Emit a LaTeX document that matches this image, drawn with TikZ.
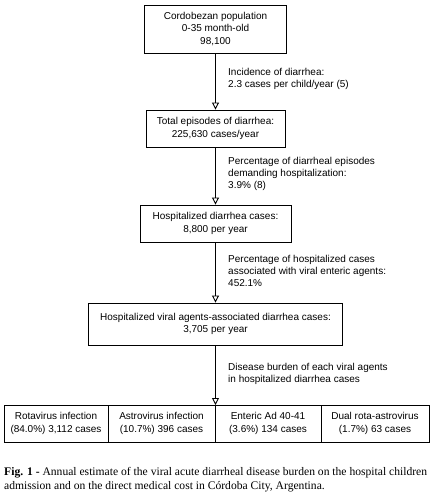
\documentclass[tikz,border=0pt]{standalone}
\usepackage{fontspec}
\setmainfont{Liberation Serif}
\newfontfamily\boxfont{Liberation Sans}
\usetikzlibrary{arrows.meta}

\begin{document}
\begin{tikzpicture}[x=1pt,y=-1pt,
		box/.style={draw,line width=0.9pt,align=center,inner sep=0pt,font=\boxfont\fontsize{10}{12.5}\selectfont},
		note/.style={anchor=west,align=left,inner sep=0pt,font=\boxfont\fontsize{10}{12}\selectfont},
		arr/.style={line width=1pt,-{Triangle[open,length=7pt,width=7pt,line width=0.9pt]}}]
			\useasboundingbox[fill=white] (0,0) rectangle (430,500);
			
			\node[box,minimum width=142pt,minimum height=48pt] (pop) at (215.5,29) {Cordobezan population\\0-35 month-old\\98,100};
			\node[box,minimum width=139pt,minimum height=37pt] (tot) at (215.5,128.5) {Total episodes of diarrhea:\\225,630 cases/year};
			\node[box,minimum width=151pt,minimum height=37pt] (hosp) at (215.5,223.5) {Hospitalized diarrhea cases:\\8,800 per year};
			\node[box,minimum width=254pt,minimum height=42pt] (vir) at (215.5,324) {Hospitalized viral agents-associated diarrhea cases:\\3,705 per year};
			
			\node[box,minimum width=104pt,minimum height=37pt] (rota) at (56,423.5) {Rotavirus infection\\(84.0\%) 3,112 cases};
			\node[box,minimum width=107pt,minimum height=37pt] (astro) at (161.5,423.5) {Astrovirus infection\\(10.7\%) 396 cases};
			\node[box,minimum width=106pt,minimum height=37pt] (ad) at (268,423.5) {Enteric Ad 40-41\\(3.6\%) 134 cases};
			\node[box,minimum width=108pt,minimum height=37pt] (dual) at (375,423.5) {Dual rota-astrovirus\\(1.7\%) 63 cases};
			\coordinate (top) at (215.5,405);
			
			\draw[arr] (pop) -- (tot);
			\draw[arr] (tot) -- (hosp);
			\draw[arr] (hosp) -- (vir);
			\draw[arr] (vir) -- (top);
			
			\node[note] (n1) at (228,79) {Incidence of diarrhea:\\2.3 cases per child/year (5)};
			\node[note] (n2) at (228,174) {Percentage of diarrheal episodes\\demanding hospitalization:\\3.9\% (8)};
			\node[note] (n3) at (228,271) {Percentage of hospitalized cases\\associated with viral enteric agents:\\452.1\%};
			\node[note] (n4) at (228,373.5) {Disease burden of each viral agents\\in hospitalized diarrhea cases};
			
			\node[anchor=west,align=left,inner sep=0pt,font=\fontsize{11.6}{14}\selectfont] (cap) at (4,480) {\textbf{Fig. 1 -} Annual estimate of the viral acute diarrheal disease burden on the hospital children\\admission and on the direct medical cost in C\'ordoba City, Argentina.};
		\end{tikzpicture}
\end{document}
